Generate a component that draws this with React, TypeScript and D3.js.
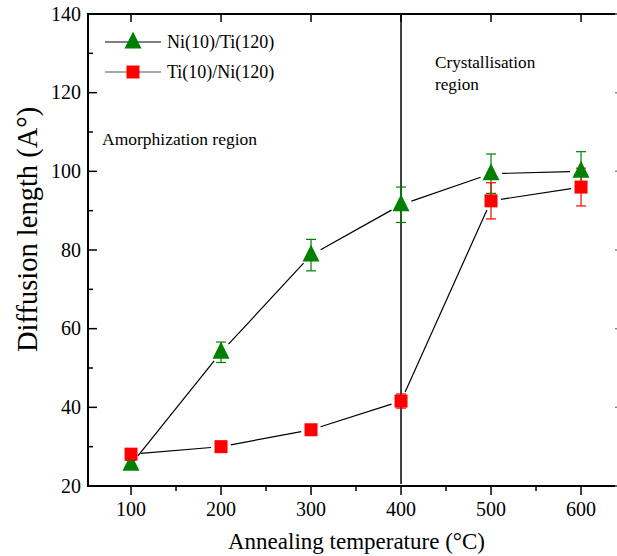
import * as d3 from "d3";

const temps = [100, 200, 300, 400, 500, 600];
const niTi = [25.5, 54, 78.7, 91.5, 99.4, 100];
const niTiErr = [1, 2.6, 4, 4.5, 5, 5];
const tiNi = [28.1, 30, 34.3, 41.6, 92.5, 96];
const tiNiErr = [0.5, 0.5, 1, 1.8, 4.6, 4.8];
const xTicks = [100, 200, 300, 400, 500, 600];
const xMinor = [150, 250, 350, 450, 550];
const yTicks = [20, 40, 60, 80, 100, 120, 140];
const yMinor = [30, 50, 70, 90, 110, 130];

const W = 617;
const H = 556;
const font = '"Liberation Serif", "Times New Roman", Times, "DejaVu Serif", serif';

const x = d3.scaleLinear().domain([53.3, 653.3]).range([89, 629]);
const y = d3.scaleLinear().domain([20, 140]).range([486, 14]);

function gappedSegments(xs: number[], ys: number[], gap: number) {
  const segs: string[] = [];
  for (let i = 0; i < xs.length - 1; i++) {
    const x0 = x(xs[i]), y0 = y(ys[i]);
    const x1 = x(xs[i + 1]), y1 = y(ys[i + 1]);
    const len = Math.hypot(x1 - x0, y1 - y0);
    if (len <= gap * 2) continue;
    const ux = (x1 - x0) / len, uy = (y1 - y0) / len;
    segs.push(
      `M${x0 + ux * gap},${y0 + uy * gap}L${x1 - ux * gap},${y1 - uy * gap}`
    );
  }
  return segs.join("");
}

const tri = (cx: number, cy: number, s: number) =>
  `M${cx},${cy - s * 0.62}L${cx + s / 2},${cy + s * 0.38}L${cx - s / 2},${cy + s * 0.38}Z`;

function ErrorBars({ vals, errs, color }: { vals: number[]; errs: number[]; color: string }) {
  return (
    <g stroke={color} strokeWidth={1.2}>
      {temps.map((t, i) => {
        const cx = x(t);
        const top = y(vals[i] + errs[i]);
        const bot = y(vals[i] - errs[i]);
        return (
          <g key={t}>
            <line x1={cx} x2={cx} y1={top} y2={bot} />
            <line x1={cx - 5} x2={cx + 5} y1={top} y2={top} />
            <line x1={cx - 5} x2={cx + 5} y1={bot} y2={bot} />
          </g>
        );
      })}
    </g>
  );
}

export default function App() {
  const green = "#008000";
  const red = "#ff0000";
  return (
    <svg
      width={W}
      height={H}
      style={{ position: "absolute", left: 0, top: 0, background: "#fff", fontFamily: font }}
    >
      {/* axes frame */}
      <g stroke="#000" strokeWidth={2} fill="none">
        <line x1={88} x2={W} y1={486} y2={486} />
        <line x1={88} x2={W} y1={14} y2={14} />
        <line x1={88} x2={88} y1={13} y2={487} />
        <line x1={619} x2={619} y1={13} y2={487} />
      </g>
      <g stroke="#000" strokeWidth={1.5}>
        {xTicks.map((t) => (
          <g key={t}>
            <line x1={x(t)} x2={x(t)} y1={486} y2={495} />
            <line x1={x(t)} x2={x(t)} y1={14} y2={22} />
          </g>
        ))}
        {xMinor.map((t) => (
          <line key={t} x1={x(t)} x2={x(t)} y1={486} y2={491} />
        ))}
        {yTicks.map((t) => (
          <g key={t}>
            <line x1={88} x2={97} y1={y(t)} y2={y(t)} />
            <line x1={619} x2={615} y1={y(t)} y2={y(t)} stroke="#888" />
          </g>
        ))}
        {yMinor.map((t) => (
          <line key={t} x1={88} x2={93} y1={y(t)} y2={y(t)} />
        ))}
      </g>
      <g fontSize={20} fill="#000">
        {xTicks.map((t) => (
          <text key={t} x={x(t)} y={516} textAnchor="middle">
            {t}
          </text>
        ))}
        {yTicks.map((t) => (
          <text key={t} x={81} y={y(t) + 6.5} textAnchor="end">
            {t}
          </text>
        ))}
      </g>
      <text x={228} y={549} fontSize={23}>
        Annealing temperature (°C)
      </text>
      <text
        transform={`translate(37,${352}) rotate(-90)`}
        fontSize={28.5}
      >
        Diffusion length (A°)
      </text>

      {/* 400 °C boundary */}
      <line x1={x(400)} x2={x(400)} y1={14} y2={484} stroke="#000" strokeWidth={1.5} />

      <text x={102} y={145} fontSize={17.5}>Amorphization region</text>
      <text x={435} y={68} fontSize={17.2}>Crystallisation</text>
      <text x={435} y={90} fontSize={17.2}>region</text>

      {/* connecting lines */}
      <path d={gappedSegments(temps, niTi, 11)} stroke="#000" strokeWidth={1.2} fill="none" />
      <path d={gappedSegments(temps, tiNi, 10)} stroke="#000" strokeWidth={1.2} fill="none" />

      <ErrorBars vals={niTi} errs={niTiErr} color={green} />
      <ErrorBars vals={tiNi} errs={tiNiErr} color={red} />

      {temps.map((t, i) => (
        <path key={"g" + t} d={tri(x(t), y(niTi[i]), 17)} fill={green} />
      ))}
      {temps.map((t, i) => (
        <rect
          key={"r" + t}
          x={x(t) - 6.5}
          y={y(tiNi[i]) - 6.5}
          width={13}
          height={13}
          fill={red}
        />
      ))}

      {/* legend */}
      <line x1={105} x2={161} y1={42} y2={42} stroke="#000" strokeWidth={1.2} />
      <path d={tri(133, 42, 17)} fill={green} />
      <text x={167} y={48} fontSize={18}>Ni(10)/Ti(120)</text>
      <line x1={105} x2={161} y1={72} y2={72} stroke="#555" strokeWidth={1.2} />
      <rect x={126.5} y={65.5} width={13} height={13} fill={red} />
      <text x={167} y={78} fontSize={18}>Ti(10)/Ni(120)</text>
    </svg>
  );
}
